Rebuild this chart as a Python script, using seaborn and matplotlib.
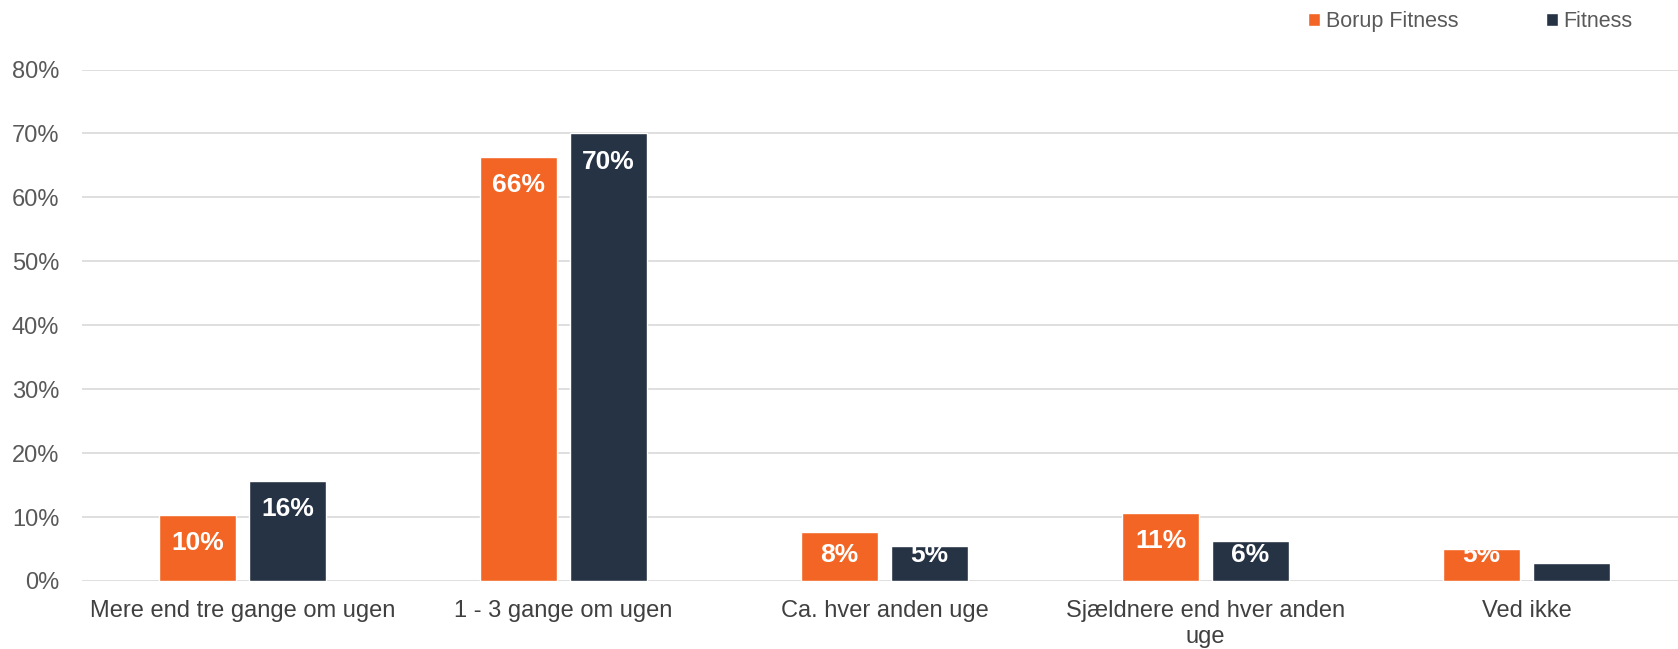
import pandas as pd
import matplotlib.pyplot as plt
import seaborn as sns

# Data
categories = ["Mere end tre gange om ugen", "1 - 3 gange om ugen", "Ca. hver anden uge",
              "Sjældnere end hver anden\nuge", "Ved ikke"]
borup = [10.4, 66.3, 7.7, 10.7, 5.0]
fitness = [15.7, 70.0, 5.5, 6.2, 2.8]
borup_labels = ["10%", "66%", "8%", "11%", "5%"]
fitness_labels = ["16%", "70%", "5%", "6%", "3%"]
series = ["Borup Fitness", "Fitness"]
colors = ["#F26524", "#263345"]

df = pd.DataFrame({
    "Kategori": categories * 2,
    "Andel": borup + fitness,
    "Serie": [series[0]] * len(categories) + [series[1]] * len(categories),
})

sns.set_style("white")
plt.rcParams['font.family'] = ['Liberation Sans', 'DejaVu Sans']

fig = plt.figure(figsize=(16.78, 6.49), dpi=100)
ax = fig.add_axes([0.0489, 0.1048, 0.9565, 0.788])

sns.barplot(data=df, x="Kategori", y="Andel", hue="Serie", hue_order=series,
            palette=colors, order=categories, width=0.56, gap=0.15,
            saturation=1, ax=ax, zorder=3)

ax.set_ylim(0, 80)
ax.set_xlim(-0.5, len(categories) - 0.5)
ax.set_yticks(range(0, 81, 10))
ax.set_yticklabels([f"{v}%" for v in range(0, 81, 10)])
ax.yaxis.grid(True, color="#d9d9d9", linewidth=1.2, zorder=0)
ax.set_axisbelow(True)
for s in ax.spines.values():
    s.set_visible(False)
ax.set_xlabel("")
ax.set_ylabel("")
ax.tick_params(axis="both", length=0, labelsize=17)
ax.tick_params(axis="y", pad=16.5, labelcolor="#595959")
ax.tick_params(axis="x", pad=14, labelcolor="#404040")

# value labels inside the top of each bar (kept clear of the baseline, like Excel)
for container, labels in zip(ax.containers, [borup_labels, fitness_labels]):
    for bar, lab in zip(container, labels):
        y = max(bar.get_height() - 4.4, 4.0)
        ax.text(bar.get_x() + bar.get_width() / 2, y, lab,
                ha="center", va="center", color="white",
                fontsize=19, fontweight="bold", zorder=5)

sns.move_legend(ax, "center left", bbox_to_anchor=(0.764, 1.094), ncol=2,
                frameon=False, title=None, fontsize=15.5, handlelength=0.55,
                handleheight=0.55, handletextpad=0.25, columnspacing=4.1,
                borderpad=0, borderaxespad=0)
for t in ax.get_legend().get_texts():
    t.set_color("#595959")

plt.savefig("out.png", dpi=100)
